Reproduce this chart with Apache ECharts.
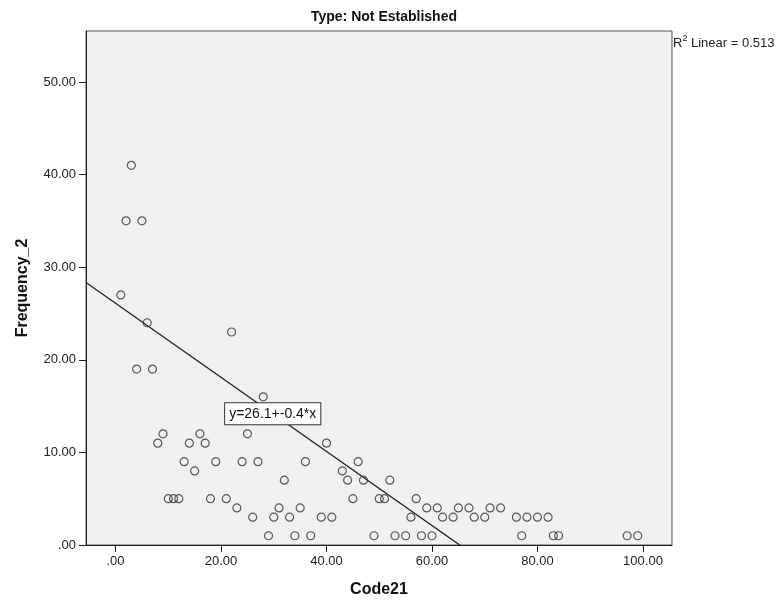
<!DOCTYPE html>
<html>
<head>
<meta charset="utf-8">
<script src="https://cdn.jsdelivr.net/npm/echarts@6/dist/echarts.min.js"></script>
<style>
  html, body { margin: 0; padding: 0; background: #fff; }
  #chart { width: 783px; height: 603px; }
</style>
</head>
<body>
<div id="chart"></div>
<script>
const TITLE = 'Type: Not Established';
const X_NAME = 'Code21';
const Y_NAME = 'Frequency_2';

// Code21 / Frequency_2 pairs
const code21 = [1, 2, 3, 4, 5, 6, 7, 8, 9, 10, 11, 12, 13, 14, 15, 16, 17, 18, 19, 21,
  22, 23, 24, 25, 26, 27, 28, 29, 30, 31, 32, 33, 34, 35, 36, 37, 39, 40, 41, 43,
  44, 45, 46, 47, 49, 50, 51, 52, 53, 55, 56, 57, 58, 59, 60, 61, 62, 64, 65, 67,
  68, 70, 71, 73, 76, 77, 78, 80, 82, 83, 84, 97, 99];
const frequency2 = [27, 35, 41, 19, 35, 24, 19, 11, 12, 5, 5, 5, 9, 11, 8, 12, 11, 5, 9, 5,
  23, 4, 9, 12, 3, 9, 16, 1, 3, 4, 7, 3, 1, 4, 9, 1, 3, 11, 3, 8,
  7, 5, 9, 7, 1, 5, 5, 7, 1, 1, 3, 5, 1, 4, 1, 4, 3, 3, 4, 4,
  3, 3, 4, 4, 3, 1, 3, 3, 3, 1, 1, 1, 1];

const xTicks = [0, 20, 40, 60, 80, 100];
const yTicks = [0, 10, 20, 30, 40, 50];

// linear fit shown in the chart
const FIT_INTERCEPT = 26.1;
const FIT_SLOPE = -0.4;
const R2_LINEAR = 0.513;
const FIT_LABEL_X = 29.8;

const X_MIN = -5.6, X_MAX = 105.5;
const Y_MIN = 0, Y_MAX = 55.5;

const FONT = '"Liberation Sans", Arial, sans-serif';
const fit = x => FIT_INTERCEPT + FIT_SLOPE * x;
const fmt = v => (v === 0 ? '.00' : v.toFixed(2));

const points = code21.map((x, i) => [x, frequency2[i]]);

const chart = echarts.init(document.getElementById('chart'), null, { renderer: 'canvas' });

chart.setOption({
  animation: false,
  backgroundColor: '#fff',
  title: {
    text: TITLE,
    left: 379,
    top: 5,
    textAlign: 'center',
    textStyle: { fontFamily: FONT, fontSize: 14, fontWeight: 'bold', color: '#111' },
  },
  grid: {
    left: 86,
    right: 111,
    top: 31,
    bottom: 57,
    show: true,
    backgroundColor: '#f0f0f0',
    borderColor: '#555',
    borderWidth: 1,
  },
  xAxis: {
    type: 'value',
    min: X_MIN,
    max: X_MAX,
    name: X_NAME,
    nameLocation: 'middle',
    nameGap: 37,
    nameTextStyle: { fontFamily: FONT, fontSize: 16, fontWeight: 'bold', color: '#111' },
    axisLine: { onZero: false, lineStyle: { color: '#222', width: 1 } },
    axisTick: { show: true, length: 7, lineStyle: { color: '#222' }, customValues: xTicks },
    axisLabel: {
      customValues: xTicks,
      margin: 10,
      fontFamily: FONT,
      fontSize: 13,
      color: '#222',
      formatter: fmt,
    },
    splitLine: { show: false },
  },
  yAxis: {
    type: 'value',
    min: Y_MIN,
    max: Y_MAX,
    name: Y_NAME,
    nameLocation: 'middle',
    nameGap: 55,
    nameRotate: 90,
    nameTextStyle: { fontFamily: FONT, fontSize: 16, fontWeight: 'bold', color: '#111' },
    axisLine: { show: true, onZero: false, lineStyle: { color: '#222', width: 1 } },
    axisTick: { show: true, length: 7, lineStyle: { color: '#222' }, customValues: yTicks },
    axisLabel: {
      customValues: yTicks,
      margin: 10,
      fontFamily: FONT,
      fontSize: 13,
      color: '#222',
      formatter: fmt,
    },
    splitLine: { show: false },
  },
  graphic: [{
    type: 'text',
    left: 673,
    top: 34,
    style: {
      text: '{a|R}{s|2}{a| Linear = ' + R2_LINEAR + '}',
      rich: {
        a: { fontFamily: FONT, fontSize: 13, fill: '#222', verticalAlign: 'bottom' },
        s: { fontFamily: FONT, fontSize: 9, fill: '#222', verticalAlign: 'top', padding: [0, 0, 7, 0] },
      },
    },
  }],
  series: [
    {
      name: 'fit',
      type: 'line',
      data: [[X_MIN, fit(X_MIN)], [X_MAX, fit(X_MAX)]],
      showSymbol: false,
      clip: true,
      lineStyle: { color: '#222', width: 1.3 },
      z: 2,
      markPoint: {
        symbol: 'rect',
        symbolSize: 0,
        data: [{ coord: [FIT_LABEL_X, fit(FIT_LABEL_X)] }],
        label: {
          show: true,
          position: 'inside',
          formatter: 'y=' + FIT_INTERCEPT + '+' + FIT_SLOPE + '*x',
          fontFamily: FONT,
          fontSize: 14,
          color: '#111',
          backgroundColor: '#fff',
          borderColor: '#333',
          borderWidth: 1,
          padding: [4, 4, 3, 4],
        },
      },
    },
    {
      name: 'points',
      type: 'scatter',
      data: points,
      symbol: 'circle',
      symbolSize: 8,
      itemStyle: { color: 'rgba(0,0,0,0)', borderColor: '#333', borderWidth: 1.2 },
      z: 3,
    },
  ],
});
</script>
</body>
</html>
